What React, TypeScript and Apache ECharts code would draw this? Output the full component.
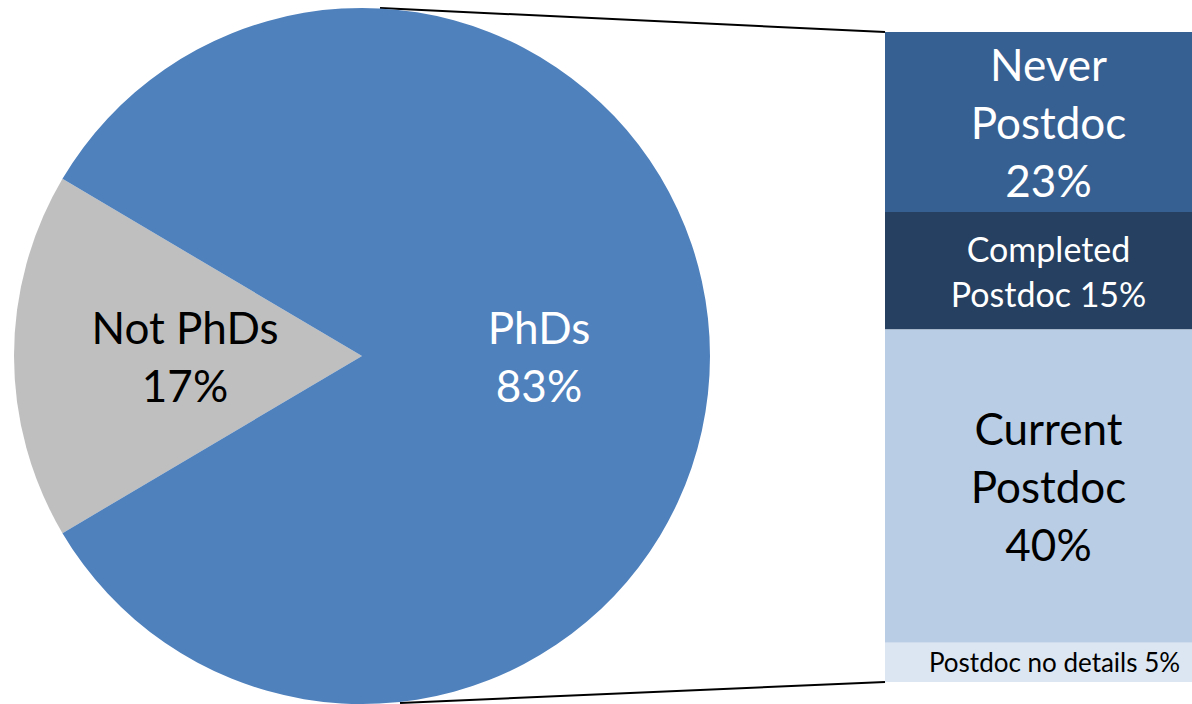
import React, { useEffect, useRef } from "react";
import * as echarts from "echarts";

// Share of respondents with / without a PhD
const pieNames = ["Not PhDs", "PhDs"];
const pieValues = [17, 83];
const pieColors = ["#BFBFBF", "#4F81BD"];
const pieLabelColors = ["#000000", "#FFFFFF"];

// Postdoc breakdown of the PhD share (stacked top to bottom)
const barNames = ["Never Postdoc", "Completed Postdoc", "Current Postdoc", "Postdoc no details"];
const barValues = [23, 15, 40, 5];
const barColors = ["#376092", "#254061", "#B9CDE5", "#DCE6F2"];
const barLabelColors = ["#FFFFFF", "#FFFFFF", "#000000", "#000000"];
const barLabelSizes = [44, 34, 44, 26];
const barLabelBreaks = [
  (n: string, v: number) => n.replace(" ", "\n") + "\n" + v + "%",
  (n: string, v: number) => n.replace(" ", "\n") + " " + v + "%",
  (n: string, v: number) => n.replace(" ", "\n") + "\n" + v + "%",
  (n: string, v: number) => n + " " + v + "%",
];

const FONT = "Lato, 'Open Sans', sans-serif";

// layout
const W = 1192;
const H = 704;
const PIE_CX = 362;
const PIE_CY = 356;
const PIE_R = 348;
const BAR_LEFT = 885;
const BAR_TOP = 32;
const BAR_H = 650;
// the column is cut by the right edge, so its labels sit right of the visible centre
const LABEL_SHIFT = 10;

export default function App() {
  const ref = useRef<HTMLDivElement>(null);

  useEffect(() => {
    if (!ref.current) return;
    const chart = echarts.init(ref.current, undefined, { renderer: "svg" });
    const notShare = pieValues[0] / (pieValues[0] + pieValues[1]);
    const startAngle = 180 + (notShare * 360) / 2;
    const barTotal = barValues.reduce((a, b) => a + b, 0);

    chart.setOption({
      animation: false,
      backgroundColor: "#FFFFFF",
      grid: { left: BAR_LEFT, right: 0, top: BAR_TOP, height: BAR_H },
      xAxis: { type: "category", data: ["PhDs"], show: false },
      yAxis: { type: "value", min: 0, max: barTotal, inverse: true, show: false },
      series: [
        {
          type: "pie",
          center: [PIE_CX, PIE_CY],
          radius: [0, PIE_R],
          startAngle,
          clockwise: true,
          silent: true,
          label: {
            position: "inside",
            formatter: "{b}\n{d}%",
            fontFamily: FONT,
            fontSize: 44,
            lineHeight: 58,
          },
          labelLine: { show: false },
          data: pieNames.map((n, i) => ({
            name: n,
            value: pieValues[i],
            itemStyle: { color: pieColors[i] },
            label: { color: pieLabelColors[i] },
          })),
        },
        ...barNames.map((n, i) => ({
          type: "bar",
          name: n,
          stack: "phd",
          barWidth: "100%",
          silent: true,
          itemStyle: { color: barColors[i] },
          label: {
            show: true,
            position: "inside",
            color: barLabelColors[i],
            fontFamily: FONT,
            fontSize: barLabelSizes[i],
            lineHeight: Math.round(barLabelSizes[i] * 1.32),
            offset: [i === 3 ? LABEL_SHIFT + 6 : LABEL_SHIFT, 0],
            formatter: (p: any) => barLabelBreaks[i](p.seriesName, p.value),
          },
          data: [barValues[i]],
        })),
      ],
      graphic: [
        {
          type: "line",
          shape: { x1: PIE_CX + 18, y1: PIE_CY - PIE_R, x2: BAR_LEFT, y2: BAR_TOP },
          style: { stroke: "#000000", lineWidth: 2 },
        },
        {
          type: "line",
          shape: { x1: PIE_CX + 38, y1: PIE_CY + PIE_R - 1, x2: BAR_LEFT, y2: BAR_TOP + BAR_H },
          style: { stroke: "#000000", lineWidth: 2 },
        },
      ],
    });
    return () => chart.dispose();
  }, []);

  return (
    <div
      ref={ref}
      style={{ position: "fixed", left: 0, top: 0, width: W, height: H, background: "#fff" }}
    />
  );
}
